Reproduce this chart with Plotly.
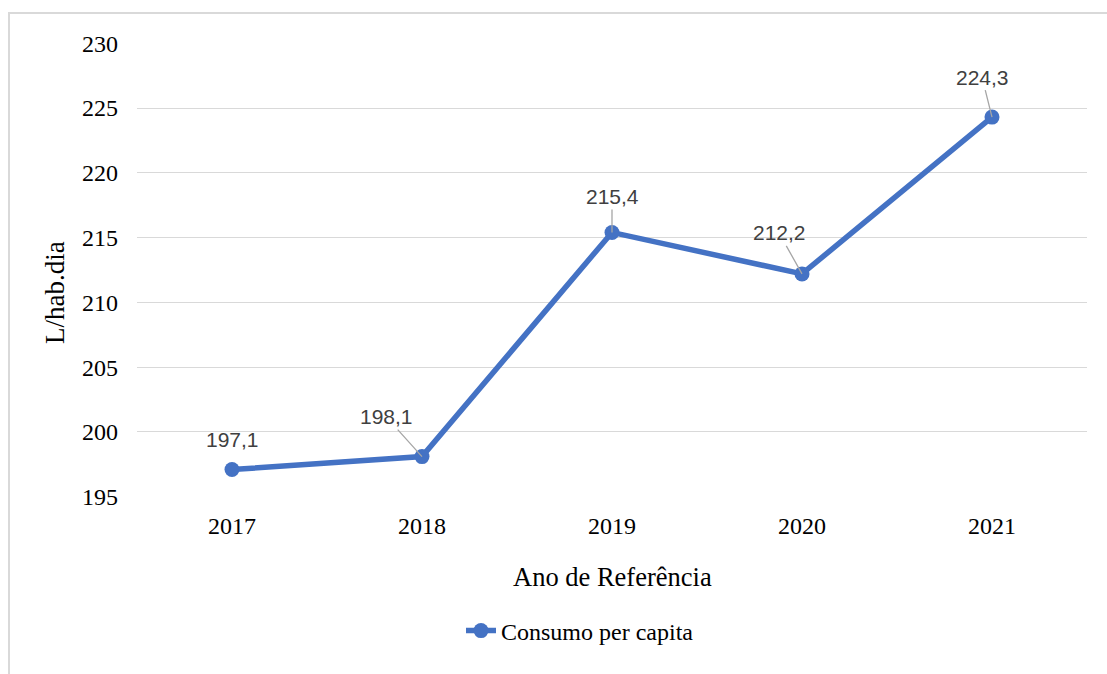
import plotly.graph_objects as go

# Per-capita water consumption by reference year
anos = ["2017", "2018", "2019", "2020", "2021"]
consumo = [197.1, 198.1, 215.4, 212.2, 224.3]
rotulos = ["197,1", "198,1", "215,4", "212,2", "224,3"]

# Label offsets (pixels) from each point
desloc_x = [0, -36, 0, -23, -10]
desloc_y = [-30, -40, -36, -41, -40]
com_linha = [False, True, True, True, True]

AZUL = "#4472C4"
SERIF = "Liberation Serif, Times New Roman, serif"
SANS = "Liberation Sans, Arial, sans-serif"

fig = go.Figure()
fig.add_trace(go.Scatter(
    x=anos, y=consumo, mode="lines+markers",
    name="Consumo per capita",
    line=dict(color=AZUL, width=5.5),
    marker=dict(color=AZUL, size=15),
))

# Data labels with leader lines (category index used for x)
for i, (v, r, dx, dy, lin) in enumerate(zip(consumo, rotulos, desloc_x, desloc_y, com_linha)):
    fig.add_annotation(
        x=i, y=v, xref="x", yref="y", text=r, showarrow=True, ax=dx, ay=dy,
        arrowhead=0, arrowwidth=1.3,
        arrowcolor="#A6A6A6" if lin else "rgba(0,0,0,0)",
        font=dict(family=SANS, size=21, color="#404040"),
    )

# Axis titles
fig.add_annotation(
    xref="paper", yref="paper", x=(55 - 137) / 950, y=(497 - 293) / 454,
    xanchor="center", yanchor="middle",
    text="L/hab.dia", textangle=-90, showarrow=False,
    font=dict(family=SERIF, size=27, color="black"),
)
fig.add_annotation(
    xref="paper", yref="paper", x=(612 - 137) / 950, y=(497 - 577) / 454,
    xanchor="center", yanchor="middle",
    text="Ano de Referência", showarrow=False,
    font=dict(family=SERIF, size=26.5, color="black"),
)

# Chart frame
fig.add_shape(
    type="rect", xref="paper", yref="paper",
    x0=(9 - 137) / 950, x1=1.2, y0=-1.0, y1=(497 - 13) / 454,
    line=dict(color="#D9D9D9", width=2), layer="below",
)

fig.update_layout(
    width=1107, height=674,
    margin=dict(l=137, r=20, t=43, b=177),
    paper_bgcolor="white", plot_bgcolor="white",
    showlegend=True,
    legend=dict(
        orientation="h", x=(580 - 137) / 950, xanchor="center",
        y=(497 - 631) / 454, yanchor="middle",
        font=dict(family=SERIF, size=24, color="black"),
    ),
    xaxis=dict(
        type="category", range=[-0.5, 4.5],
        showgrid=False, showline=False, zeroline=False,
        tickfont=dict(family=SERIF, size=24, color="black"),
        ticks="", ticklabelstandoff=12,
    ),
    yaxis=dict(
        range=[194.98, 230.02], dtick=5, tick0=195,
        showgrid=True, gridcolor="#D9D9D9", gridwidth=1.3,
        zeroline=False, showline=False,
        tickfont=dict(family=SERIF, size=24, color="black"),
        ticks="", ticklabelstandoff=18,
    ),
)

fig.write_html("out.html")
